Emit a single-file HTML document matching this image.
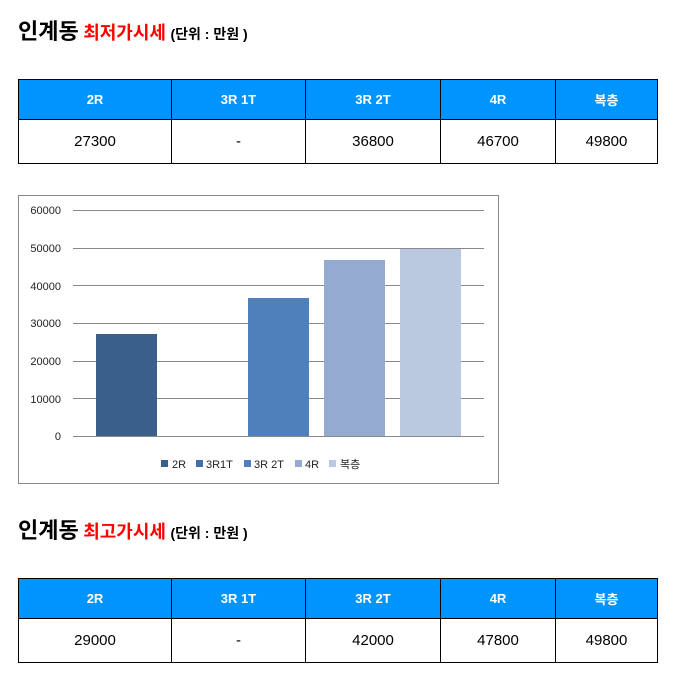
<!DOCTYPE html>
<html><head><meta charset="utf-8"><style>
body{margin:0;background:#fff;font-family:"Liberation Sans","Noto Sans CJK KR",sans-serif;}
.t{position:absolute;left:18px;white-space:nowrap;}
.t b{font-size:22px;color:#000;}
.t .r{font-size:18px;color:#f00;font-weight:bold;}
.t .s{font-size:14px;font-weight:bold;}
table{position:absolute;left:18px;width:639px;border-collapse:collapse;table-layout:fixed;}
td{border:1px solid #000;text-align:center;font-size:15px;padding:0;}
tr.h td{background:#0094ff;color:#fff;font-weight:bold;font-size:13px;height:39px;}
tr.d td{height:43px;}
</style></head><body>
<div class="t" style="top:14px"><b>인계동</b> <span class="r">최저가시세</span> <span class="s">(단위 : 만원 )</span></div>
<table style="top:79px"><colgroup><col style="width:153px"><col style="width:134px"><col style="width:135px"><col style="width:115px"><col style="width:102px"></colgroup>
<tr class="h"><td>2R</td><td>3R 1T</td><td>3R 2T</td><td>4R</td><td>복층</td></tr>
<tr class="d"><td>27300</td><td>-</td><td>36800</td><td>46700</td><td>49800</td></tr></table>
<svg style="position:absolute;left:0;top:0" width="673" height="681" font-family="Liberation Sans,Noto Sans CJK KR,sans-serif" font-size="11">
<rect x="18.5" y="195.5" width="480" height="288" fill="#fff" stroke="#888"/>
<g stroke="#888" stroke-width="1">
<line x1="73" x2="484" y1="210.5" y2="210.5"/><line x1="73" x2="484" y1="248.5" y2="248.5"/>
<line x1="73" x2="484" y1="285.5" y2="285.5"/><line x1="73" x2="484" y1="323.5" y2="323.5"/>
<line x1="73" x2="484" y1="361.5" y2="361.5"/><line x1="73" x2="484" y1="398.5" y2="398.5"/>
<line x1="73" x2="484" y1="436.5" y2="436.5"/></g>
<g text-anchor="end" fill="#222">
<text x="61" y="214">60000</text><text x="61" y="252">50000</text><text x="61" y="290">40000</text>
<text x="61" y="327">30000</text><text x="61" y="365">20000</text><text x="61" y="403">10000</text><text x="61" y="440">0</text></g>
<rect x="96" y="334" width="61" height="102" fill="#3a5f8b"/>
<rect x="248" y="298" width="61" height="138" fill="#4f80bb"/>
<rect x="324" y="260" width="61" height="176" fill="#94aad0"/>
<rect x="400" y="249" width="61" height="187" fill="#bac8e0"/>
<g fill="#222" font-size="11">
<rect x="161" y="460" width="7" height="7" fill="#3a5f8b"/><text x="172" y="468">2R</text>
<rect x="196" y="460" width="7" height="7" fill="#4270a6"/><text x="206" y="468">3R1T</text>
<rect x="244" y="460" width="7" height="7" fill="#4f80bb"/><text x="254" y="468">3R 2T</text>
<rect x="295" y="460" width="7" height="7" fill="#94aad0"/><text x="305" y="468">4R</text>
<rect x="329" y="460" width="7" height="7" fill="#bac8e0"/><text x="340" y="468">복층</text></g>
</svg>
<div class="t" style="top:513px"><b>인계동</b> <span class="r">최고가시세</span> <span class="s">(단위 : 만원 )</span></div>
<table style="top:578px"><colgroup><col style="width:153px"><col style="width:134px"><col style="width:135px"><col style="width:115px"><col style="width:102px"></colgroup>
<tr class="h"><td>2R</td><td>3R 1T</td><td>3R 2T</td><td>4R</td><td>복층</td></tr>
<tr class="d"><td>29000</td><td>-</td><td>42000</td><td>47800</td><td>49800</td></tr></table>
</body></html>
